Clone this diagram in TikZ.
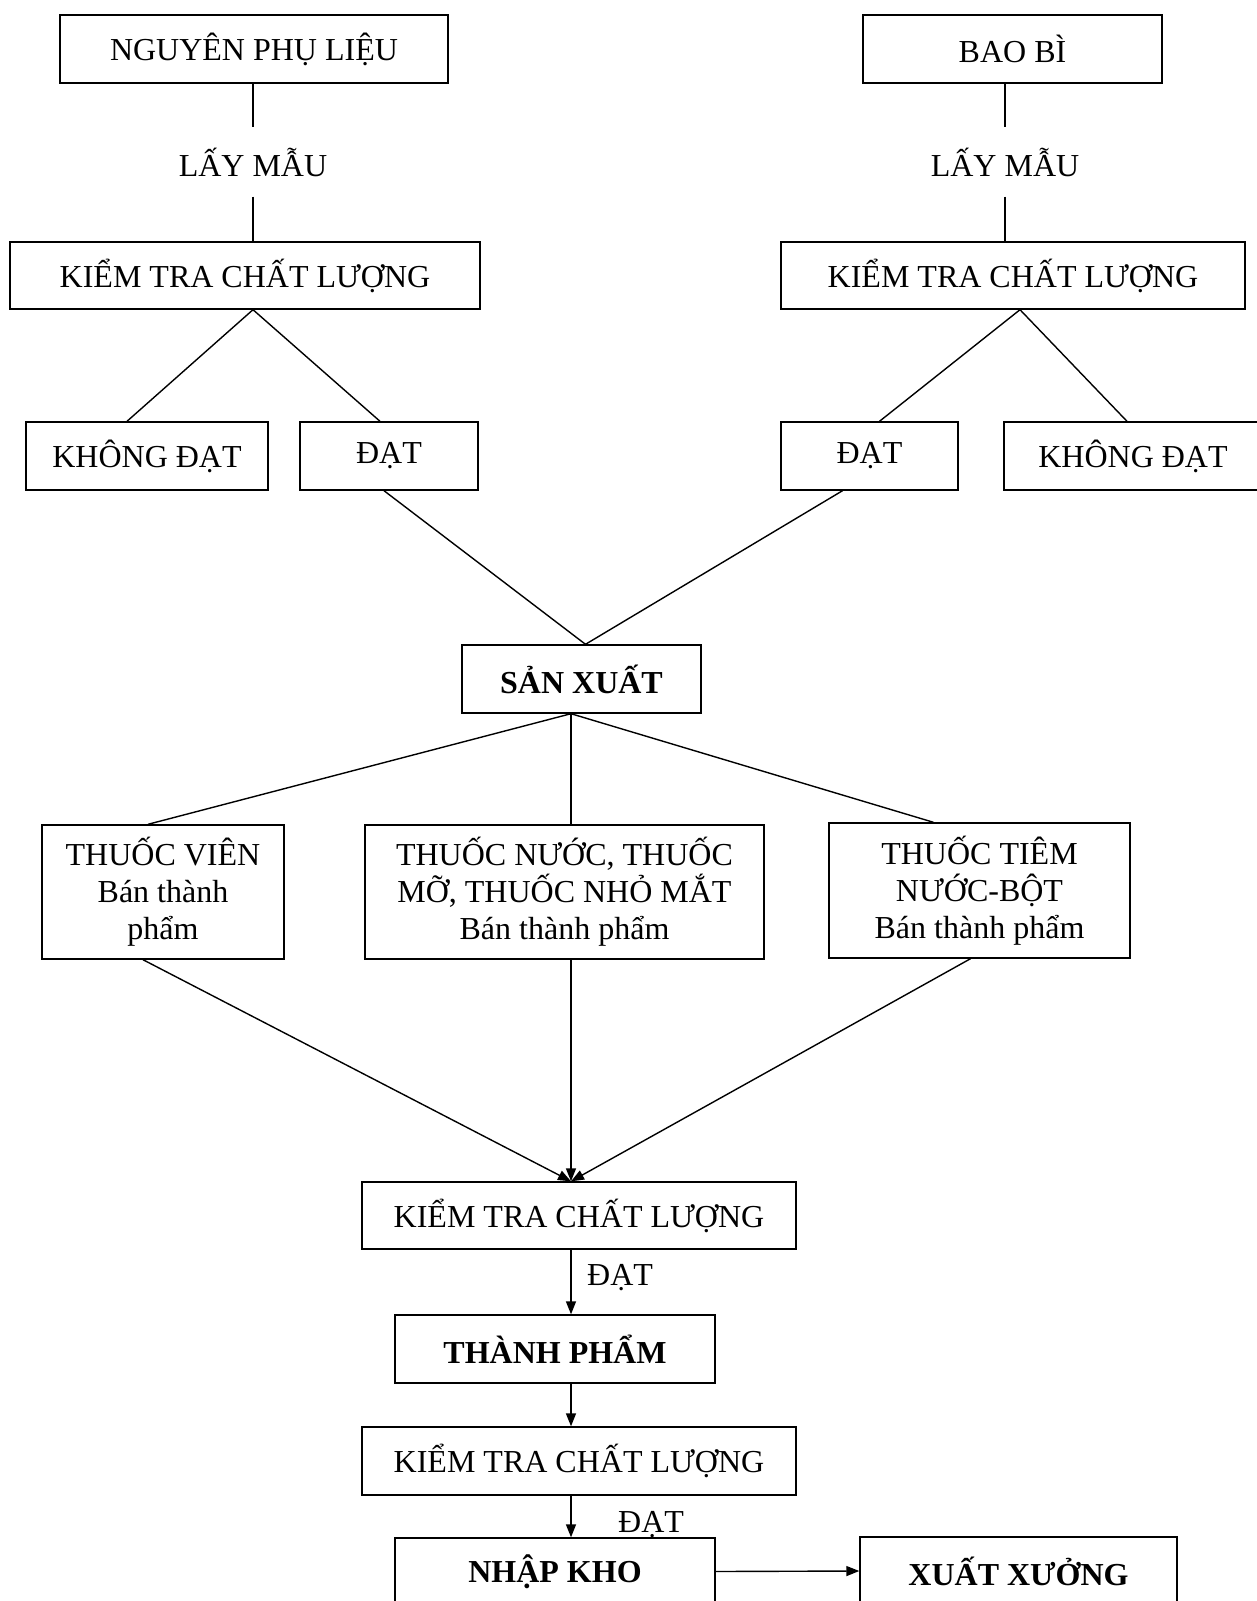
\documentclass[tikz,border=0pt]{standalone}
\usepackage{fontspec}
\setmainfont{Liberation Serif}
\usetikzlibrary{arrows.meta,calc}
\newcommand\mybox[7][]{\node[box,#1,minimum width={#5-#3},minimum height={#6-#4}] (#2) at ({(#3+#5)/2},{(#4+#6)/2}) {#7};}
\begin{document}
\begin{tikzpicture}[x=1pt,y=-1pt,
  box/.style={draw, line width=1.4pt, inner sep=0pt, align=center, font=\fontsize{32}{37}\selectfont},
  bold/.style={font=\fontsize{32}{37}\selectfont\bfseries},
  lbl/.style={inner sep=0pt, font=\fontsize{32}{37}\selectfont},
  ln/.style={line width=1.4pt},
  arr/.style={line width=1.4pt, -{Triangle[length=13pt,width=10pt]}},
]
\useasboundingbox (0,0) rectangle (1256,1601);
\fill[white] (0,0) rectangle (1256,1601);
% top row
\mybox{npl}{60}{15}{448}{83}{NGUYÊN PHỤ LIỆU}
\mybox{bb}{863}{15}{1162}{83}{BAO BÌ}
\node[lbl, minimum height=69pt] (lm1) at (253,162) {LẤY MẪU};
\node[lbl, minimum height=69pt] (lm2) at (1005,162) {LẤY MẪU};
\mybox{k1}{10}{242}{480}{309}{KIỂM TRA CHẤT LƯỢNG}
\mybox{k2}{781}{242}{1245}{309}{KIỂM TRA CHẤT LƯỢNG}
\mybox{kd1}{26}{422}{268}{490}{KHÔNG ĐẠT}
\mybox{d1}{300}{422}{478}{490}{ĐẠT}
\mybox{d2}{781}{422}{958}{490}{ĐẠT}
\mybox{kd2}{1004}{422}{1262}{490}{KHÔNG ĐẠT}
% production
\mybox[bold]{sx}{462}{645}{701}{713}{SẢN XUẤT}
\mybox{tv}{42}{825}{284}{959}{THUỐC VIÊN\\Bán thành\\phẩm}
\mybox{tn}{365}{825}{764}{959}{THUỐC NƯỚC, THUỐC\\MỠ, THUỐC NHỎ MẮT\\Bán thành phẩm}
\mybox{tt}{829}{823}{1130}{958}{THUỐC TIÊM\\NƯỚC-BỘT\\Bán thành phẩm}
\mybox{k3}{362}{1182}{796}{1249}{KIỂM TRA CHẤT LƯỢNG}
\mybox[bold]{tp}{395}{1315}{715}{1383}{THÀNH PHẨM}
\mybox{k4}{362}{1427}{796}{1495}{KIỂM TRA CHẤT LƯỢNG}
\mybox[bold]{nk}{395}{1538}{715}{1605}{NHẬP KHO}
\mybox[bold]{xx}{860}{1537}{1177}{1605}{XUẤT XƯỞNG}
% connectors top
\draw[ln] (lm1.north |- npl.south) -- (lm1.north);
\draw[ln] (lm1.south) -- (lm1.south |- k1.north);
\draw[ln] (lm2.north |- bb.south) -- (lm2.north);
\draw[ln] (lm2.south) -- (lm2.south |- k2.north);
\coordinate (a1) at (lm1.south |- k1.south);
\draw[ln] ($(kd1.north)+(-20,0)$) -- (a1) -- ($(d1.north)+(-9,0)$);
\coordinate (a2) at ($(k2.south)+(7,0)$);
\draw[ln] ($(d2.north)+(10,0)$) -- (a2) -- ($(kd2.north)+(-6,0)$);
\draw[ln] ($(d1.south)+(-5,0)$) -- ($(sx.north)+(4,0)$) -- ($(d2.south)+(-27,0)$);
% production branches
\coordinate (m) at (571,0);
\draw[ln] ($(tv.north)+(-15,0)$) -- (m |- sx.south) -- ($(tt.north)+(-46,0)$);
\draw[ln] (m |- sx.south) -- (m |- tn.north);
\coordinate (m2) at (m |- k3.north);
\draw[arr] ($(tv.south)+(-20,0)$) -- (m2);
\draw[arr] (m |- tn.south) -- (m2);
\draw[arr] ($(tt.south)+(-9,0)$) -- (m2);
% final chain
\draw[arr] (m |- k3.south) -- (m |- tp.north);
\node[lbl, anchor=west] (ok1) at ($(m |- k3.south)+(16,28)$) {ĐẠT};
\draw[arr] (m |- tp.south) -- (m |- k4.north);
\draw[arr] (m |- k4.south) -- (m |- nk.north);
\node[lbl, anchor=west] (ok2) at ($(m |- k4.south)+(47,29)$) {ĐẠT};
\draw[arr] (nk.east) -- (xx.west);
\end{tikzpicture}
\end{document}
